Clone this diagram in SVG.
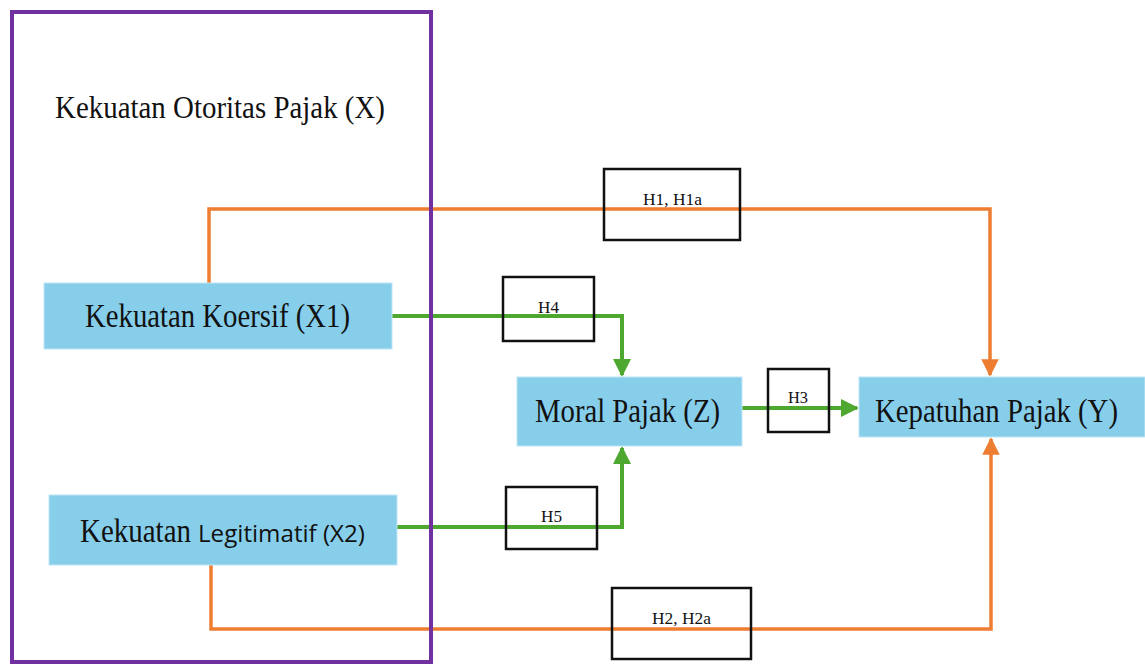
<svg xmlns="http://www.w3.org/2000/svg" width="1145" height="664" viewBox="0 0 1145 664">
<style>
.node{fill:#87CEEB;stroke:#BFE6F5;stroke-width:1}
.serif{font-family:"Liberation Serif","Times New Roman",serif;fill:#111}
.sans{font-family:"Open Sans","Liberation Sans",sans-serif;fill:#111}
.lbl{fill:none;stroke:#111;stroke-width:2.5}
.or{fill:none;stroke:#ED7D31;stroke-width:3.5}
.gr{fill:none;stroke:#4EA72E;stroke-width:4}
</style>
<defs>
<marker id="ao" markerWidth="5" markerHeight="5" refX="4.5" refY="2.5" orient="auto" markerUnits="strokeWidth"><path d="M0,0 L5,2.5 L0,5 Z" fill="#ED7D31"/></marker>
<marker id="ag" markerWidth="4.5" markerHeight="4.5" refX="4" refY="2.25" orient="auto" markerUnits="strokeWidth"><path d="M0,0 L4.5,2.25 L0,4.5 Z" fill="#4EA72E"/></marker>
</defs>
<rect width="1145" height="664" fill="#fff"/>
<g id="connectors">
<path class="or" d="M209,283 V209 H990 V375" marker-end="url(#ao)"/>
<path class="or" d="M211,562 V629 H991 V439" marker-end="url(#ao)"/>
<path class="gr" d="M391,316 H622 V375" marker-end="url(#ag)"/>
<path class="gr" d="M397,527 H622 V448" marker-end="url(#ag)"/>
<path class="gr" d="M742,408 H857" marker-end="url(#ag)"/>
</g>
<g id="group-X">
<rect x="12" y="12" width="419" height="650" fill="none" stroke="#7030A0" stroke-width="4"/>
<text class="serif" x="55" y="118" font-size="31" textLength="330" lengthAdjust="spacingAndGlyphs">Kekuatan Otoritas Pajak (X)</text>
</g>
<g id="node-X1">
<rect class="node" x="44" y="283" width="348" height="66"/>
<text class="serif" x="85" y="327" font-size="33" textLength="265" lengthAdjust="spacingAndGlyphs">Kekuatan Koersif (X1)</text>
</g>
<g id="node-X2">
<rect class="node" x="49" y="495" width="348" height="70"/>
<text x="80" y="542"><tspan class="serif" font-size="33" textLength="111" lengthAdjust="spacingAndGlyphs">Kekuatan</tspan><tspan class="sans" x="198" font-size="23" textLength="167" lengthAdjust="spacingAndGlyphs">Legitimatif (X2)</tspan></text>
</g>
<g id="node-Z">
<rect class="node" x="517" y="377" width="225" height="69"/>
<text class="serif" x="535" y="422" font-size="33" textLength="185" lengthAdjust="spacingAndGlyphs">Moral Pajak (Z)</text>
</g>
<g id="node-Y">
<rect class="node" x="859" y="377" width="286" height="60"/>
<text class="serif" x="875" y="422" font-size="33" textLength="243" lengthAdjust="spacingAndGlyphs">Kepatuhan Pajak (Y)</text>
</g>
<g id="label-H1">
<rect class="lbl" x="604" y="169" width="136" height="71"/>
<text class="serif" x="643" y="205" font-size="17" textLength="59" lengthAdjust="spacingAndGlyphs">H1, H1a</text>
</g>
<g id="label-H4">
<rect class="lbl" x="503" y="277" width="91" height="64"/>
<text class="serif" x="538" y="313" font-size="17" textLength="21" lengthAdjust="spacingAndGlyphs">H4</text>
</g>
<g id="label-H5">
<rect class="lbl" x="506" y="487" width="91" height="62"/>
<text class="serif" x="541" y="522" font-size="17" textLength="21" lengthAdjust="spacingAndGlyphs">H5</text>
</g>
<g id="label-H3">
<rect class="lbl" x="768" y="369" width="61" height="63"/>
<text class="serif" x="788" y="403" font-size="17" textLength="20" lengthAdjust="spacingAndGlyphs">H3</text>
</g>
<g id="label-H2">
<rect class="lbl" x="612" y="588" width="139" height="71"/>
<text class="serif" x="652" y="624" font-size="17" textLength="59" lengthAdjust="spacingAndGlyphs">H2, H2a</text>
</g>
</svg>
